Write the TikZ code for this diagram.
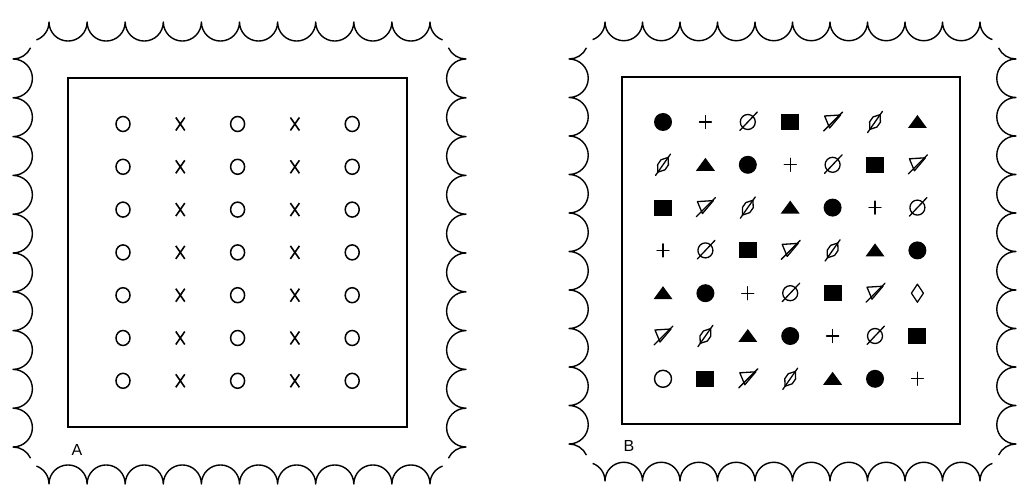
\documentclass[tikz,border=0pt]{standalone}
\usepackage{fontspec}
\setsansfont{Liberation Sans}
\usetikzlibrary{positioning}

\tikzset{
    stampline/.style={line width=1.4pt, line join=round},
    panelbox/.style={draw, line width=1.1pt, inner sep=0pt, outer sep=0pt},
    panellabel/.style={font=\sffamily\fontsize{16}{16}\selectfont, inner sep=0pt},
    symline/.style={line width=1.3pt, line cap=round, line join=round},
    ocirc/.pic={\draw[line width=1.5pt] (0,0) ellipse[x radius=7, y radius=7.5];},
    xcross/.pic={\draw[line width=1.6pt] (-4.5,-6.5) -- (4.5,6.5) (-4.5,6.5) -- (4.5,-6.5);},
    fdot/.pic={\fill (0,0) circle[radius=9];},
    opcirc/.pic={\draw[line width=1.4pt] (0,0) circle[radius=8.5];},
    fsq/.pic={\fill (-9,-8) rectangle (9,8);},
    ftri/.pic={\fill (-9.5,-6) -- (9.5,-6) -- (0,7) -- cycle;},
    pls/.pic={\draw[symline] (-6,0) -- (6,0) (0,-6.5) -- (0,6.5);},
    slcirc/.pic={\draw[symline] (0,0) circle[radius=7.5];
                 \draw[symline] (-8,-8.5) -- (9.5,10);},
    sltri/.pic={\draw[symline] (-8,6) -- (8,7) -- (-3,-6) -- cycle;
                \draw[symline] (-9,-9) -- (10,10);},
    sldia/.pic={\begin{scope}[rotate=55]
                \draw[symline] (-9,0) -- (-3,4.5) -- (3,4.5) -- (9,0) -- (3,-4.5) -- (-3,-4.5) -- cycle;
                \draw[symline] (-13,0) -- (13,0);
                \end{scope}},
    opdia/.pic={\draw[symline] (0,9) -- (6,0) -- (0,-9) -- (-6,0) -- cycle;}
}

% scalloped stamp edge: left, top, right, bottom cusp lines
\newcommand{\stampframe}[4]{%
    \pgfmathsetmacro{\rh}{(#3-#1-72)/20}
    \pgfmathsetmacro{\rv}{(#2-#4-74)/20}
    \draw[stampline] ({#1+36-\rh+\rh*cos(70)},{#2-\rh*sin(70)}) arc[start angle=-70,end angle=0,radius=\rh]
        \foreach \k in {1,...,10}{ arc[start angle=180,end angle=360,radius=\rh] }
        arc[start angle=180,end angle=250,radius=\rh];
    \draw[stampline] ({#1+36-\rh+\rh*cos(70)},{#4+\rh*sin(70)}) arc[start angle=70,end angle=0,radius=\rh]
        \foreach \k in {1,...,10}{ arc[start angle=180,end angle=0,radius=\rh] }
        arc[start angle=180,end angle=110,radius=\rh];
    \draw[stampline] ({#1+\rv*cos(25)},{#2-37+\rv-\rv*sin(25)}) arc[start angle=-25,end angle=-90,radius=\rv]
        \foreach \k in {1,...,10}{ arc[start angle=90,end angle=-90,radius=\rv] }
        arc[start angle=90,end angle=25,radius=\rv];
    \draw[stampline] ({#3-\rv*cos(25)},{#2-37+\rv-\rv*sin(25)}) arc[start angle=205,end angle=270,radius=\rv]
        \foreach \k in {1,...,10}{ arc[start angle=90,end angle=270,radius=\rv] }
        arc[start angle=90,end angle=155,radius=\rv];
}

\begin{document}
\begin{tikzpicture}[x=1pt, y=1pt]
    \fill[white] (0,0) rectangle (1024,498);
    \useasboundingbox (0,0) rectangle (1024,498);

    % panel A
    \stampframe{13}{476}{466}{14}
    \node[panelbox, minimum width=339pt, minimum height=349pt] (boxA) at (237.5,245.5) {};
    \node[panellabel] (labA) at ([shift={(9,-23)}]boxA.south west) {A};

    \foreach \r in {1,...,7}
        \foreach \s [count=\c] in {ocirc,xcross,ocirc,xcross,ocirc}
            \pic (a\r\c) at ({123+57.3*(\c-1)}, {374-42.8*(\r-1)}) {\s};

    % panel B
    \stampframe{569}{476}{1016}{17}
    \node[panelbox, minimum width=338pt, minimum height=347pt] (boxB) at (791,247.5) {};
    \node[panellabel] (labB) at ([shift={(7,-22)}]boxB.south west) {B};

    \foreach \row [count=\r] in {
        {fdot,pls,slcirc,fsq,sltri,sldia,ftri},
        {sldia,ftri,fdot,pls,slcirc,fsq,sltri},
        {fsq,sltri,sldia,ftri,fdot,pls,slcirc},
        {pls,slcirc,fsq,sltri,sldia,ftri,fdot},
        {ftri,fdot,pls,slcirc,fsq,sltri,opdia},
        {sltri,sldia,ftri,fdot,pls,slcirc,fsq},
        {opcirc,fsq,sltri,sldia,ftri,fdot,pls}}
        \foreach \s [count=\c] in \row
            \pic (b\r\c) at ({663+42.4*(\c-1)}, {376-42.8*(\r-1)}) {\s};
\end{tikzpicture}
\end{document}
